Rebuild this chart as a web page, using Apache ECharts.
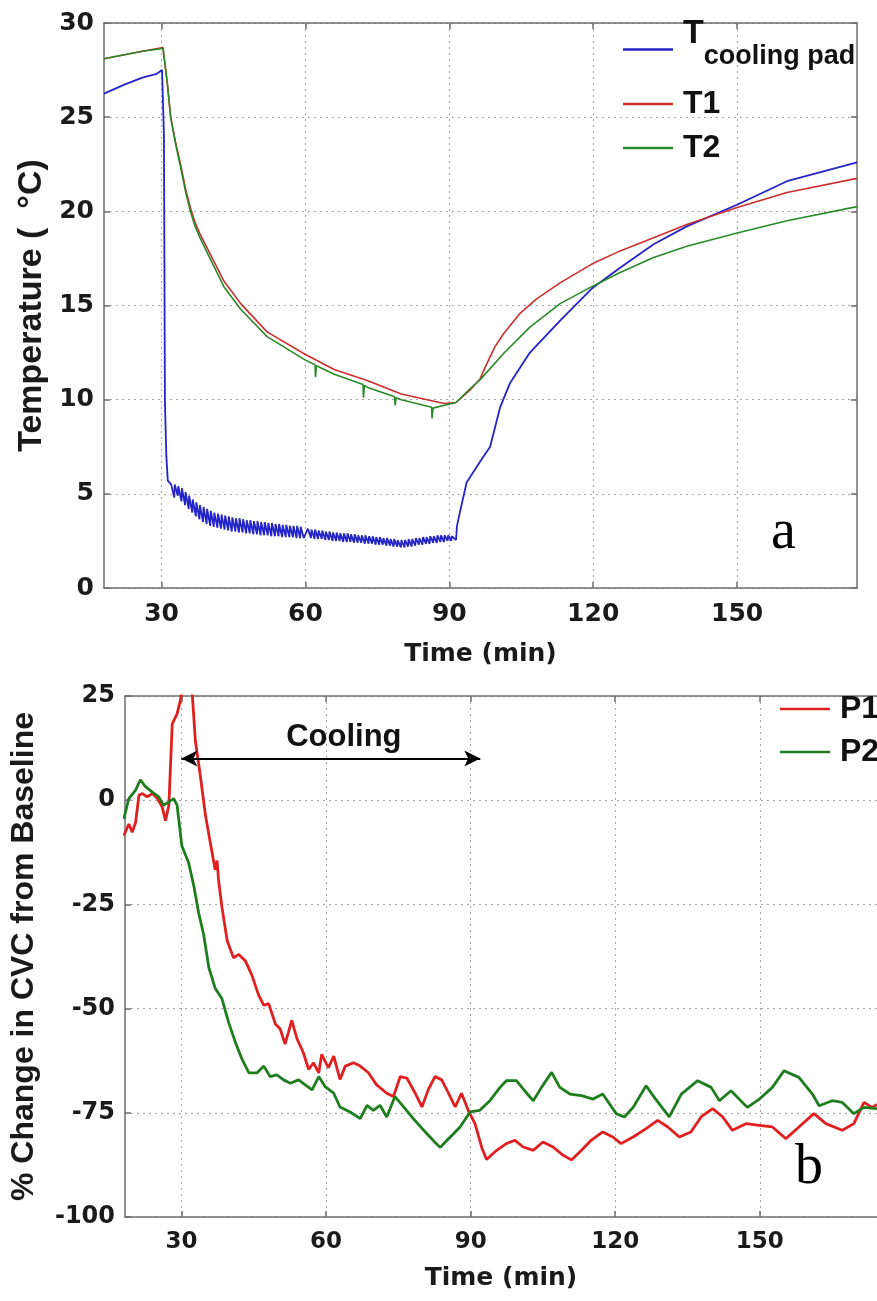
<!DOCTYPE html>
<html>
<head>
<meta charset="utf-8">
<script src="https://cdn.jsdelivr.net/npm/echarts@6/dist/echarts.min.js"></script>
<style>
html, body { margin: 0; padding: 0; background: #fff; }
#main { width: 877px; height: 1301px; }
</style>
</head>
<body>
<div id="main"></div>
<script>
// panel a: temperatures (deg C) vs time (min)
var xTicks = [30, 60, 90, 120, 150];

var tcpTime = [18, 22, 26, 29, 30.1, 30.4, 30.5, 30.7, 31, 31.3,
  32, 32.65, 32.75, 33.4, 33.5, 34.15, 34.25, 34.9, 35, 35.65, 35.75, 36.4, 36.5, 37.15, 37.25, 37.9,
  38, 38.65, 38.75, 39.4, 39.5, 40.15, 40.25, 40.9, 41, 41.65, 41.75, 42.4, 42.5, 43.15, 43.25, 43.9,
  44, 44.65, 44.75, 45.4, 45.5, 46.15, 46.25, 46.9, 47, 47.65, 47.75, 48.4, 48.5, 49.15, 49.25, 49.9,
  50, 50.65, 50.75, 51.4, 51.5, 52.15, 52.25, 52.9, 53, 53.65, 53.75, 54.4, 54.5, 55.15, 55.25, 55.9,
  56, 56.65, 56.75, 57.4, 57.5, 58.15, 58.25, 58.9, 59, 59.65,
  60.5, 61.15, 61.25, 61.9, 62, 62.65, 62.75, 63.4, 63.5, 64.15, 64.25, 64.9, 65, 65.65, 65.75, 66.4,
  66.5, 67.15, 67.25, 67.9, 68, 68.65, 68.75, 69.4, 69.5, 70.15, 70.25, 70.9, 71, 71.65, 71.75, 72.4,
  72.5, 73.15, 73.25, 73.9, 74, 74.65, 74.75, 75.4, 75.5, 76.15, 76.25, 76.9, 77, 77.65, 77.75, 78.4,
  78.5, 79.15, 79.25, 79.9, 80, 80.65, 80.75, 81.4, 81.5, 82.15, 82.25, 82.9, 83, 83.65, 83.75, 84.4,
  84.5, 85.15, 85.25, 85.9, 86, 86.65, 86.75, 87.4, 87.5, 88.15, 88.25, 88.9, 89, 89.65, 89.75, 90.4, 90.5, 91.4,
  91.6, 92.1, 93.6, 96.4, 98.5, 100.6, 102.7, 106.8, 113.1, 119.7, 125.6, 132.6, 139.5, 150, 160.4, 175];
var tcpTemp = [26.25, 26.7, 27.1, 27.3, 27.5, 27.6, 24.0, 9.9, 7.0, 5.7,
  5.5, 4.8, 5.5, 4.9, 5.4, 4.6, 5.3, 4.4, 5.1, 4.2, 4.9, 4.0, 4.7, 3.8, 4.55, 3.65,
  4.4, 3.5, 4.3, 3.4, 4.2, 3.3, 4.1, 3.25, 4.0, 3.2, 3.95, 3.15, 3.9, 3.1, 3.85, 3.05,
  3.8, 3.0, 3.75, 3.0, 3.7, 2.95, 3.7, 2.95, 3.65, 2.9, 3.6, 2.9, 3.6, 2.85, 3.55, 2.85,
  3.55, 2.8, 3.5, 2.8, 3.5, 2.8, 3.45, 2.75, 3.45, 2.75, 3.4, 2.75, 3.4, 2.7, 3.35, 2.7,
  3.35, 2.7, 3.3, 2.7, 3.3, 2.65, 3.3, 2.65, 3.25, 2.65,
  3.15, 2.65, 3.1, 2.6, 3.1, 2.6, 3.05, 2.6, 3.05, 2.55, 3.0, 2.55, 3.0, 2.5, 2.95, 2.5,
  2.95, 2.5, 2.9, 2.45, 2.9, 2.45, 2.9, 2.45, 2.85, 2.4, 2.85, 2.4, 2.8, 2.4, 2.8, 2.35,
  2.8, 2.35, 2.75, 2.35, 2.75, 2.3, 2.7, 2.3, 2.7, 2.3, 2.65, 2.25, 2.65, 2.25, 2.6, 2.2,
  2.6, 2.2, 2.55, 2.15, 2.55, 2.15, 2.55, 2.2, 2.6, 2.2, 2.6, 2.25, 2.65, 2.3, 2.65, 2.3,
  2.7, 2.35, 2.7, 2.35, 2.75, 2.4, 2.75, 2.4, 2.8, 2.45, 2.8, 2.45, 2.8, 2.5, 2.8, 2.5, 2.75, 2.55,
  3.3, 3.9, 5.6, 6.7, 7.5, 9.6, 10.9, 12.5, 14.2, 15.9, 17.0, 18.25, 19.2, 20.35, 21.6, 22.6];

var t1Time = [18, 22, 26, 30.3, 31.2, 31.9, 32.9, 34, 35, 36, 37, 38, 40.3, 43, 46.5, 52, 60, 66, 73, 80, 87, 89,
  91.4, 94.3, 96.4, 97.8, 99.5, 101.3, 104.8, 108.2, 113.1, 119.7, 125.6, 132.6, 139.5, 150, 160.4, 175];
var t1Temp = [28.1, 28.3, 28.5, 28.7, 26.8, 25.0, 23.7, 22.45, 21.2, 20.2, 19.4, 18.8, 17.65, 16.3, 15.1, 13.6, 12.4, 11.6, 11.0, 10.3, 9.9, 9.8,
  9.85, 10.5, 11.1, 11.9, 12.8, 13.5, 14.6, 15.35, 16.2, 17.2, 17.9, 18.6, 19.3, 20.2, 21.0, 21.75];

var t2Time = [18, 22, 26, 30.3, 31.2, 31.9, 32.9, 34, 35, 36, 37, 38, 40.3, 43, 46.5, 52, 60, 62, 62.1, 62.3, 66,
  72, 72.1, 72.3, 73, 78.6, 78.7, 78.9, 80, 86.3, 86.4, 86.6, 87, 89, 91.4, 94, 96.4, 101.3, 106.8,
  113.1, 119.7, 125.6, 132.6, 139.5, 150, 160.4, 175];
var t2Temp = [28.1, 28.3, 28.5, 28.65, 26.8, 25.0, 23.6, 22.3, 21.05, 20.0, 19.2, 18.6, 17.4, 16.0, 14.8, 13.35, 12.1, 11.85, 11.2, 11.8, 11.35,
  10.8, 10.1, 10.75, 10.65, 10.15, 9.7, 10.1, 10.0, 9.6, 9.0, 9.55, 9.55, 9.7, 9.85, 10.5, 11.05, 12.45, 13.85,
  15.1, 16.0, 16.75, 17.55, 18.15, 18.85, 19.5, 20.25];

// panel b: % change in CVC vs time (min)
var p1Time = [18.05, 19.1, 19.8, 20.5, 21.2, 21.9, 22.9, 24, 25, 26, 26.7, 27.4, 28.1, 29.1, 29.8, 30.5, 31.5, 32.2,
  32.9, 33.9, 35, 36, 37, 37.4, 37.7, 38.4, 39.5, 40.8, 41.9, 43.3, 44.6, 46, 47.1, 48.1, 49.5, 50.5, 51.5,
  52.2, 52.9, 54, 55.3, 56.4, 57.4, 58.5, 59.1, 60.5, 61.6, 62.9, 64, 65.7, 67.1, 68.8, 70.5, 72.6, 74,
  75.4, 76.8, 78.5, 79.9, 81.2, 82.6, 84, 85.4, 86.8, 88.1, 89.5, 90.9, 92.3, 93.3, 95.4, 97.4, 99.2,
  100.9, 103, 105, 107.1, 109.2, 110.9, 113, 115, 117.4, 119.5, 121.2, 123.7, 126.4, 128.8, 130.9, 133.3,
  135.7, 137.8, 140.2, 142.3, 144.3, 147.1, 149.9, 152.6, 155.4, 158.1, 161.2, 163.7, 167.1, 169.5, 171.6, 173.3, 174.3];
var p1Val = [-8.5, -5.7, -7.7, -5.3, 1.2, 1.6, 0.8, 1.6, 0.4, -1.6, -4.9, -1.2, 18.3, 20.7, 24, 29, 30, 26.4,
  14.2, 6.1, -3.7, -10.2, -16.7, -14.5, -19.1, -25.6, -33.7, -37.8, -37, -38.6, -41.9, -46.7, -49.2, -48.8, -53.7, -54.9, -58.5,
  -55.7, -52.8, -57.3, -60.6, -64.6, -63, -65.4, -61, -64.2, -61.4, -67, -63.8, -63, -63.8, -65.4, -68.3, -70.3, -71.1,
  -66.3, -66.7, -70.3, -73.6, -69.5, -66.3, -67.1, -70.3, -73.6, -70.3, -74.4, -77.6, -83.3, -86.2, -84, -82.4, -81.6,
  -83.2, -84, -82, -83.2, -85.2, -86.3, -84, -81.6, -79.6, -80.8, -82.4, -80.8, -78.8, -76.8, -78.4, -80.8,
  -79.6, -76, -74, -76, -79.2, -77.6, -78, -78.4, -81.2, -78.4, -75.2, -77.6, -79.2, -77.6, -72.5, -73.7, -73];

var p2Time = [18.05, 19.1, 20.5, 21.5, 22.5, 23.9, 25.3, 26.3, 27.4, 28.4, 29.1, 30.1, 31.5, 32.6, 33.6, 34.6, 35.7,
  37, 38.4, 39.8, 41.2, 42.6, 44, 45.7, 47.1, 48.4, 49.8, 51.2, 52.6, 54.3, 55.7, 57.1, 58.5, 59.8, 61.6, 62.9,
  65, 67.1, 68.5, 69.8, 71.2, 72.6, 74.3, 76.1, 78.1, 80.5, 82.3, 83.7, 85, 86.4, 87.8, 89.9, 91.9, 94, 96.1,
  97.4, 99.5, 101.2, 103, 104.7, 106.8, 108.5, 110.6, 113, 115.4, 117.4, 120.2, 121.9, 123.7, 126.4, 128.1,
  131.2, 133.7, 137.1, 139.9, 141.6, 144, 147.4, 149.9, 152.6, 155, 158.1, 160.9, 162.3, 165, 167.1, 169.5, 171.6, 174.3];
var p2Val = [-4.5, 0.4, 2.4, 4.9, 3.3, 2, 0.8, -1.2, -0.4, 0.4, -1.2, -11, -15, -20.7, -27.2, -32.1, -40.2,
  -45.1, -47.6, -53.3, -58.1, -62.2, -65.4, -65.4, -63.8, -66.3, -65.9, -67.1, -67.9, -67.1, -68.3, -69.5, -66.3, -68.7, -70.3, -73.6,
  -74.8, -76.4, -73.2, -74.4, -73.2, -76, -71.1, -73.6, -76.4, -79.5, -81.7, -83.3, -81.7, -80.1, -78.4, -74.8, -74.4, -72.1, -68.9,
  -67.3, -67.3, -69.7, -72.1, -68.9, -65.3, -68.9, -70.5, -70.9, -71.7, -70.5, -75.2, -76, -73.7, -68.5, -71.3,
  -76, -70.5, -67.3, -68.9, -72.1, -69.7, -73.7, -71.7, -68.9, -64.9, -66.5, -70.5, -73.3, -72.1, -72.5, -75.2, -73.7, -74];

function pairs(ts, vs) {
  return ts.map(function (t, i) { return [t, vs[i]]; });
}

var axisGray = '#6e6e6e';
var tickFont = 'DejaVu Sans';
var textFont = 'Liberation Sans';

function xAxisCfg(grid, pos, min, max, labels) {
  return {
    type: 'value', gridIndex: grid, position: pos, min: min, max: max,
    axisLine: { show: true, onZero: false, lineStyle: { color: axisGray, width: 1.5 } },
    axisTick: { show: true, inside: true, length: 6, customValues: xTicks, lineStyle: { color: axisGray, width: 1.5 } },
    axisLabel: { show: labels, customValues: xTicks, margin: 14, fontFamily: tickFont, fontWeight: 'bold', fontSize: grid === 0 ? 25 : 23, color: '#1a1a1a' },
    splitLine: { show: labels, lineStyle: { color: '#a5a5a5', type: [2, 4], width: 1 } }
  };
}

function yAxisCfg(grid, pos, min, max, step, labels) {
  return {
    type: 'value', gridIndex: grid, position: pos, min: min, max: max, interval: step,
    axisLine: { show: true, onZero: false, lineStyle: { color: axisGray, width: 1.5 } },
    axisTick: { show: true, inside: true, length: 6, lineStyle: { color: axisGray, width: 1.5 } },
    axisLabel: { show: labels, margin: 10, fontFamily: tickFont, fontWeight: 'bold', fontSize: grid === 0 ? 25 : 24, color: '#1a1a1a' },
    splitLine: { show: labels, lineStyle: { color: '#a5a5a5', type: [2, 4], width: 1 } }
  };
}

var xTop = xAxisCfg(0, 'bottom', 18, 175, true);
xTop.name = 'Time (min)';
xTop.nameLocation = 'middle';
xTop.nameGap = 54;
xTop.nameTextStyle = { fontFamily: tickFont, fontWeight: 'bold', fontSize: 25, color: '#1a1a1a' };

var xBot = xAxisCfg(1, 'bottom', 18.3, 174.3, true);
xBot.name = 'Time (min)';
xBot.nameLocation = 'middle';
xBot.nameGap = 49;
xBot.nameTextStyle = { fontFamily: tickFont, fontWeight: 'bold', fontSize: 25, color: '#1a1a1a' };

var yTop = yAxisCfg(0, 'left', 0, 30, 5, true);
yTop.name = 'Temperature (  °C)';
yTop.nameLocation = 'middle';
yTop.nameGap = 48;
yTop.nameTextStyle = { fontFamily: textFont, fontWeight: 'bold', fontSize: 34, color: '#1a1a1a' };

var yBot = yAxisCfg(1, 'left', -100, 25, 25, true);
yBot.name = '% Change in CVC from Baseline';
yBot.nameLocation = 'middle';
yBot.nameGap = 85;
yBot.nameTextStyle = { fontFamily: textFont, fontWeight: 'bold', fontSize: 32, color: '#1a1a1a' };

var legendText = { fontFamily: textFont, fontWeight: 'bold', fontSize: 32, color: '#111', padding: [0, 0, 0, 5] };

function legendCfg(name, left, top, width) {
  return {
    data: [name], left: left, top: top, padding: 0, icon: 'rect', itemWidth: width, itemHeight: 2.5,
    textStyle: legendText, selectedMode: false
  };
}

var tcpLegend = legendCfg('T cooling pad', 623, 17, 50);
tcpLegend.formatter = function () { return '{t|T}{s|cooling pad}'; };
tcpLegend.textStyle = {
  padding: [0, 0, 0, 5],
  rich: {
    t: { fontFamily: textFont, fontWeight: 'bold', fontSize: 34, color: '#111', verticalAlign: 'top' },
    s: { fontFamily: textFont, fontWeight: 'bold', fontSize: 27, color: '#111', verticalAlign: 'top', padding: [26, 0, 12, 0] }
  }
};

var option = {
  animation: false,
  backgroundColor: '#fff',
  grid: [
    { left: 104, top: 23, width: 753, height: 565 },
    { left: 125, top: 696, width: 754, height: 521 }
  ],
  xAxis: [xTop, xAxisCfg(0, 'top', 18, 175, false), xBot, xAxisCfg(1, 'top', 18.3, 174.3, false)],
  yAxis: [yTop, yAxisCfg(0, 'right', 0, 30, 5, false), yBot],
  legend: [
    tcpLegend,
    legendCfg('T1', 623, 88, 50),
    legendCfg('T2', 623, 132, 50),
    legendCfg('P1', 780, 693, 50),
    legendCfg('P2', 780, 736, 50)
  ],
  series: [
    {
      name: 'T cooling pad', type: 'line', xAxisIndex: 0, yAxisIndex: 0, showSymbol: false, symbol: 'none',
      color: '#2424c8', lineStyle: { width: 1.8 }, data: pairs(tcpTime, tcpTemp)
    },
    {
      name: 'T1', type: 'line', xAxisIndex: 0, yAxisIndex: 0, showSymbol: false, symbol: 'none',
      color: '#cc2f2f', lineStyle: { width: 1.6 }, data: pairs(t1Time, t1Temp)
    },
    {
      name: 'T2', type: 'line', xAxisIndex: 0, yAxisIndex: 0, showSymbol: false, symbol: 'none',
      color: '#2a8a2a', lineStyle: { width: 1.6 }, data: pairs(t2Time, t2Temp)
    },
    {
      name: 'P1', type: 'line', xAxisIndex: 2, yAxisIndex: 2, showSymbol: false, symbol: 'none',
      color: '#e02020', lineStyle: { width: 2.8 }, data: pairs(p1Time, p1Val),
      markLine: {
        silent: true, animation: false,
        symbol: ['arrow', 'arrow'], symbolSize: [12, 16],
        lineStyle: { color: '#000', width: 2, type: 'solid' },
        label: { show: true, position: 'middle', formatter: 'Cooling', distance: 6, padding: [0, 0, 0, 26],
          fontFamily: textFont, fontWeight: 'bold', fontSize: 31, color: '#111' },
        data: [[{ coord: [30, 10] }, { coord: [92, 10] }]]
      }
    },
    {
      name: 'P2', type: 'line', xAxisIndex: 2, yAxisIndex: 2, showSymbol: false, symbol: 'none',
      color: '#1e7d1e', lineStyle: { width: 2.8 }, data: pairs(p2Time, p2Val)
    }
  ],
  graphic: [
    { type: 'text', left: 771, top: 505, style: { text: 'a', font: '56px "Liberation Serif"', fill: '#000' } },
    { type: 'text', left: 795, top: 1140, style: { text: 'b', font: '56px "Liberation Serif"', fill: '#000' } }
  ]
};

var myChart = echarts.init(document.getElementById('main'));
myChart.setOption(option);
</script>
</body>
</html>
